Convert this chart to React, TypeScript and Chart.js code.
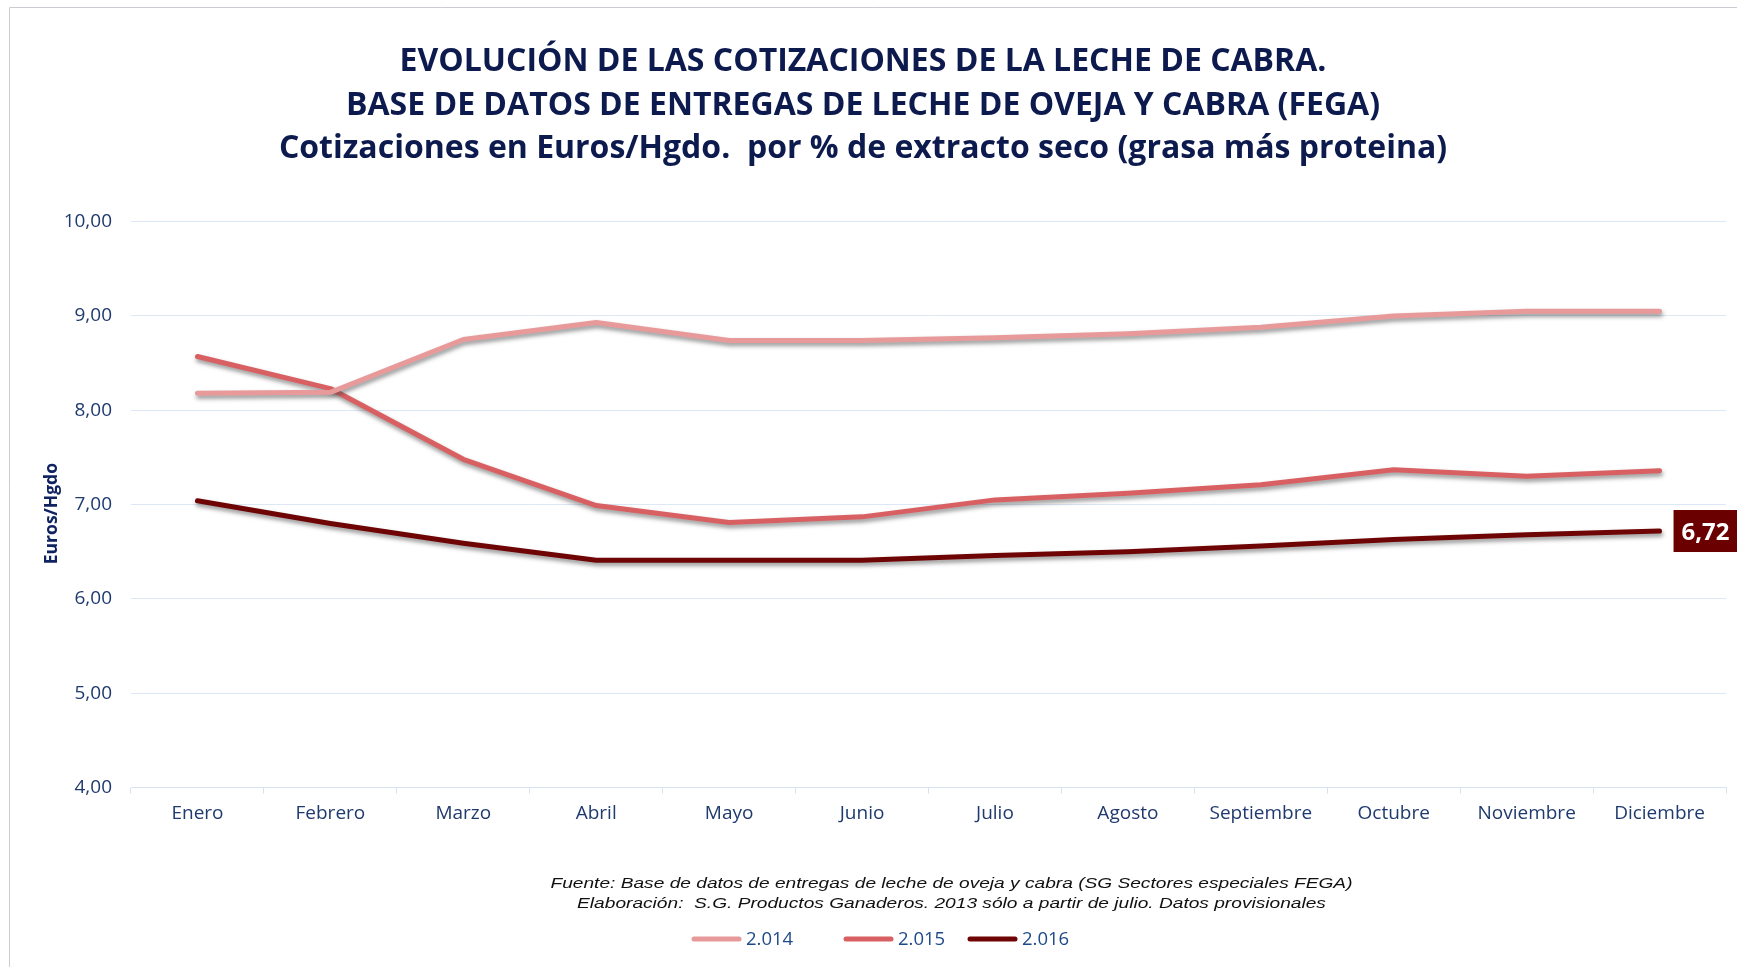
import React, { useEffect, useRef } from "react";
import { Chart, registerables } from "chart.js";

Chart.register(...registerables);

const months = ["Enero", "Febrero", "Marzo", "Abril", "Mayo", "Junio", "Julio", "Agosto", "Septiembre", "Octubre", "Noviembre", "Diciembre"];
const serie2014 = [8.18, 8.19, 8.75, 8.93, 8.74, 8.74, 8.77, 8.81, 8.88, 9.0, 9.05, 9.05];
const serie2015 = [8.57, 8.23, 7.48, 6.99, 6.81, 6.87, 7.05, 7.12, 7.21, 7.37, 7.3, 7.36];
const serie2016 = [7.04, 6.8, 6.59, 6.41, 6.41, 6.41, 6.46, 6.5, 6.56, 6.63, 6.68, 6.72];
const seriesLabels = ["2.014", "2.015", "2.016"];
const titleLines = [
  "EVOLUCIÓN DE LAS COTIZACIONES DE LA LECHE DE CABRA.",
  "BASE DE DATOS DE ENTREGAS DE LECHE DE OVEJA Y CABRA (FEGA)",
  "Cotizaciones en Euros/Hgdo.  por % de extracto seco (grasa más proteina)",
];
const footLines = [
  "Fuente: Base de datos de entregas de leche de oveja y cabra (SG Sectores especiales FEGA)",
  "Elaboración:  S.G. Productos Ganaderos. 2013 sólo a partir de julio. Datos provisionales",
];
const yAxisTitle = "Euros/Hgdo";

const C14 = "#E89A9B";
const C15 = "#D96062";
const C16 = "#6E0404";

const fmt = (v: number) => v.toFixed(2).replace(".", ",");

const framePlugin = {
  id: "frame",
  beforeDraw(chart: any) {
    const { ctx } = chart;
    ctx.save();
    ctx.fillStyle = "#ffffff";
    ctx.fillRect(0, 0, chart.width, chart.height);
    ctx.strokeStyle = "#C9CDD3";
    ctx.lineWidth = 1;
    ctx.beginPath();
    ctx.moveTo(9.5, chart.height);
    ctx.lineTo(9.5, 7.5);
    ctx.lineTo(chart.width, 7.5);
    ctx.stroke();
    ctx.restore();
  },
};

const shadowPlugin = {
  id: "lineShadow",
  beforeDatasetDraw(chart: any) {
    const ctx = chart.ctx;
    ctx.save();
    ctx.shadowColor = "rgba(60,60,60,0.55)";
    ctx.shadowBlur = 4;
    ctx.shadowOffsetX = 1;
    ctx.shadowOffsetY = 3;
  },
  afterDatasetDraw(chart: any) {
    chart.ctx.restore();
  },
};

const lastLabelPlugin = {
  id: "lastLabel",
  afterDatasetsDraw(chart: any) {
    const meta = chart.getDatasetMeta(2);
    const pts = meta.data;
    const p = pts[pts.length - 1];
    const ds = chart.data.datasets[2].data;
    const v = ds[ds.length - 1];
    const ctx = chart.ctx;
    ctx.save();
    const left = p.x + 14;
    ctx.fillStyle = "#6B0000";
    ctx.fillRect(left, p.y - 21, chart.width - left, 42);
    ctx.fillStyle = "#ffffff";
    ctx.font = "bold 24px 'Open Sans'";
    ctx.textBaseline = "middle";
    ctx.textAlign = "left";
    ctx.fillText(fmt(v), left + 8, p.y + 2);
    ctx.restore();
  },
};

const footLegendPlugin = {
  id: "footLegend",
  afterDraw(chart: any) {
    const ctx = chart.ctx;
    ctx.save();
    // y axis title
    ctx.save();
    ctx.translate(52, (chart.chartArea.top + chart.chartArea.bottom) / 2 + 9);
    ctx.rotate(-Math.PI / 2);
    ctx.font = "bold 17.5px 'Open Sans'";
    ctx.fillStyle = "#0F2360";
    ctx.textAlign = "center";
    ctx.textBaseline = "middle";
    ctx.fillText(yAxisTitle, 0, 0);
    ctx.restore();
    // footnote
    ctx.font = "italic 15.5px 'Liberation Sans'";
    ctx.fillStyle = "#111111";
    ctx.textBaseline = "middle";
    ctx.textAlign = "center";
    const w0 = ctx.measureText(footLines[0]).width;
    const sx = 802 / w0;
    const cx = 951.5;
    const ys = [884, 904];
    footLines.forEach((line, i) => {
      ctx.save();
      ctx.translate(cx, ys[i]);
      ctx.scale(sx, 1);
      ctx.fillText(line, 0, 0);
      ctx.restore();
    });
    // legend
    const starts = [692, 844, 968];
    const ly = 939;
    ctx.font = "18.5px 'Open Sans'";
    ctx.textAlign = "left";
    chart.data.datasets.forEach((d: any, i: number) => {
      const x0 = starts[i];
      ctx.strokeStyle = d.borderColor;
      ctx.lineWidth = 5;
      ctx.lineCap = "round";
      ctx.beginPath();
      ctx.moveTo(x0 + 2, ly);
      ctx.lineTo(x0 + 47, ly);
      ctx.stroke();
      ctx.fillStyle = "#1F4A8A";
      ctx.fillText(d.label, x0 + 54, ly + 1);
    });
    ctx.restore();
  },
};

export default function App() {
  const ref = useRef<HTMLCanvasElement>(null);
  useEffect(() => {
    if (!ref.current) return;
    const mk = (label: string, data: number[], color: string) => ({
      label,
      data,
      borderColor: color,
      backgroundColor: color,
      borderWidth: 5,
      pointRadius: 0,
      pointHoverRadius: 0,
      tension: 0,
      fill: false,
      borderCapStyle: "round" as const,
      borderJoinStyle: "round" as const,
    });
    const chart = new Chart(ref.current, {
      type: "line",
      data: {
        labels: months,
        datasets: [mk(seriesLabels[0], serie2014, C14), mk(seriesLabels[1], serie2015, C15), mk(seriesLabels[2], serie2016, C16)],
      },
      options: {
        animation: false,
        responsive: false,
        maintainAspectRatio: false,
        layout: { padding: { left: 0, right: 11, top: 0, bottom: 139.4 } },
        scales: {
          x: {
            offset: true,
            afterFit(scale: any) {
              scale.height = 40;
            },
            grid: {
              display: true,
              drawOnChartArea: false,
              drawTicks: true,
              tickLength: 6,
              color: "#D5E3F3",
              offset: true,
            },
            border: { display: true, color: "#D5E3F3" },
            ticks: {
              color: "#1F3A6E",
              padding: 9,
              font: { family: "'Open Sans'", size: 19 },
              maxRotation: 0,
              autoSkip: false,
            },
          },
          y: {
            min: 4,
            max: 10,
            afterFit(scale: any) {
              scale.width = 131;
            },
            ticks: {
              stepSize: 1,
              color: "#1F3A6E",
              padding: 19,
              font: { family: "'Open Sans'", size: 19 },
              callback: (v: any) => fmt(Number(v)),
            },
            grid: { color: "#DCE8F6", drawTicks: false, lineWidth: 1 },
            border: { display: false },
            title: { display: false },
          },
        },
        plugins: {
          title: {
            display: true,
            text: titleLines,
            color: "#0D1A4E",
            font: { family: "'Open Sans'", size: 32, weight: "bold", lineHeight: 43.5 / 32 },
            padding: { top: 40.5, bottom: 50.6 },
          },
          legend: { display: false },
          tooltip: { enabled: false },
        },
      },
      plugins: [framePlugin, shadowPlugin, lastLabelPlugin, footLegendPlugin],
    } as any);
    return () => chart.destroy();
  }, []);
  return (
    <div style={{ position: "absolute", left: 0, top: 0, width: 1737, height: 967 }}>
      <canvas ref={ref} width={1737} height={967} style={{ display: "block", width: 1737, height: 967 }} />
    </div>
  );
}
